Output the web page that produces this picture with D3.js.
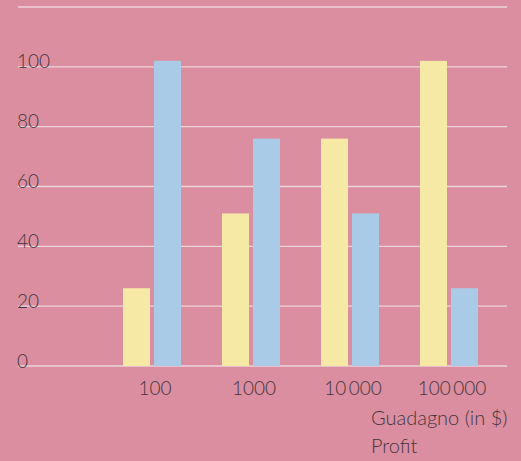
<!DOCTYPE html>
<html>
<head>
<meta charset="utf-8">
<script src="https://cdn.jsdelivr.net/npm/d3@7"></script>
<style>
  html, body { margin: 0; padding: 0; background: #db8ea0; }
  svg { display: block; }
  text { font-family: Lato, "Open Sans", sans-serif; font-weight: 300; fill: #45363c; }
</style>
</head>
<body>
<svg id="chart" width="521" height="461"></svg>
<script>
const categories = ["100", "1000", "10\u2009000", "100\u2009000"];
const seriesNames = ["a", "b"];
const yellowValues = [26, 51, 76, 102];
const blueValues = [102, 76, 51, 26];
const yTicks = [0, 20, 40, 60, 80, 100, 120];
const yTickLabels = ["0", "20", "40", "60", "80", "100", ""];
const xTitle = "Guadagno (in $)";
const xSubtitle = "Profit";

const W = 521, H = 461;
const FS = 19, FT = 20;
const svg = d3.select("#chart");
svg.append("rect").attr("width", W).attr("height", H).attr("fill", "#db8ea0");

const y = d3.scaleLinear().domain([0, 120]).range([366, 7]);
const x0 = d3.scaleBand().domain(categories).range([102.5, 498.5])
  .paddingInner(0.414).paddingOuter(0.207);
const x1 = d3.scaleBand().domain(seriesNames).range([0, x0.bandwidth()]).paddingInner(0.129);
const colors = { a: "#f6e8a5", b: "#a9cbe7" };

// gridlines
svg.append("g").selectAll("line").data(yTicks).join("line")
  .attr("x1", 18).attr("x2", 507)
  .attr("y1", d => y(d)).attr("y2", d => y(d))
  .attr("stroke", "#edd3da").attr("stroke-width", 1.3);

// y labels
svg.append("g").selectAll("text").data(yTicks).join("text")
  .attr("x", 17).attr("y", d => y(d) + 1.5)
  .attr("font-size", FS)
  .text((d, i) => yTickLabels[i]);

// bars
const data = categories.map((c, i) => ({ c, vals: [
  { k: "a", v: yellowValues[i] }, { k: "b", v: blueValues[i] }] }));
const groups = svg.append("g").selectAll("g").data(data).join("g")
  .attr("transform", d => `translate(${x0(d.c)},0)`);
groups.selectAll("rect").data(d => d.vals).join("rect")
  .attr("x", d => x1(d.k)).attr("width", x1.bandwidth())
  .attr("y", d => y(d.v)).attr("height", d => y(0) - y(d.v))
  .attr("fill", d => colors[d.k]);

// x labels
const xAxis = d3.axisBottom(x0).tickSize(0).tickPadding(0);
const gx = svg.append("g").attr("transform", `translate(3,${y(0)})`).call(xAxis);
gx.select(".domain").remove();
gx.selectAll("text")
  .attr("y", 29).attr("dy", 0)
  .attr("font-size", FS)
  .attr("fill", "#45363c")
  .style("font-family", "Lato, 'Open Sans', sans-serif")
  .style("font-weight", 300);

svg.append("text").attr("x", 371).attr("y", 425).attr("font-size", FT).text(xTitle);
svg.append("text").attr("x", 371).attr("y", 453).attr("font-size", FT).text(xSubtitle);
</script>
</body>
</html>
